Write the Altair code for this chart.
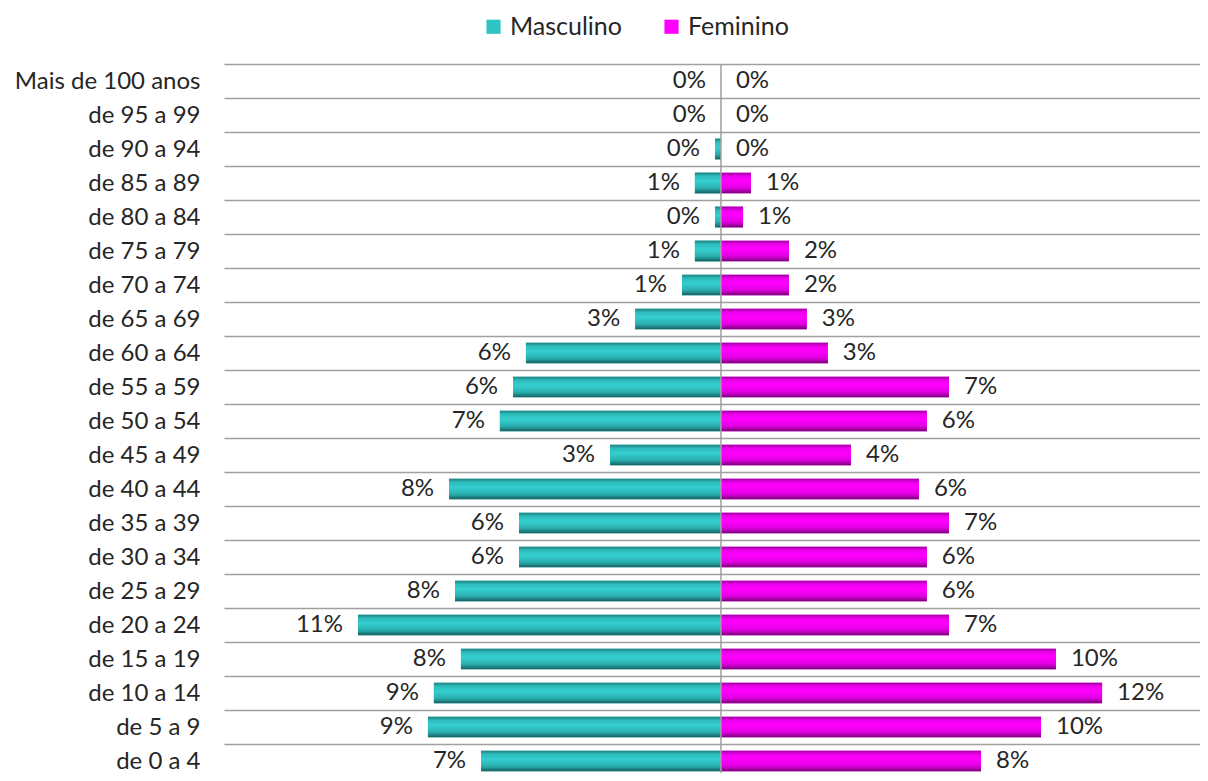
import altair as alt
import pandas as pd

ages = ["Mais de 100 anos", "de 95 a 99", "de 90 a 94", "de 85 a 89", "de 80 a 84",
        "de 75 a 79", "de 70 a 74", "de 65 a 69", "de 60 a 64", "de 55 a 59",
        "de 50 a 54", "de 45 a 49", "de 40 a 44", "de 35 a 39", "de 30 a 34",
        "de 25 a 29", "de 20 a 24", "de 15 a 19", "de 10 a 14", "de 5 a 9", "de 0 a 4"]
masculino = [0.0, 0.0, 0.18, 0.79, 0.18, 0.79, 1.18, 2.6, 5.91, 6.3, 6.7, 3.36, 8.24,
             6.12, 6.12, 8.06, 11.0, 7.88, 8.7, 8.88, 7.27]
feminino = [0.0, 0.0, 0.0, 0.91, 0.67, 2.06, 2.06, 2.6, 3.24, 6.91, 6.24, 3.94, 6.0,
            6.91, 6.24, 6.24, 6.91, 10.15, 11.55, 9.7, 7.88]
series = ["Masculino", "Feminino"]
colors = ["#2EC4C4", "#FF00FF"]

rows = []
for a, m, f in zip(ages, masculino, feminino):
    rows.append({"idade": a, "sexo": "Masculino", "valor": m, "pos": -m,
                 "rotulo": f"{round(m):.0f}%"})
    rows.append({"idade": a, "sexo": "Feminino", "valor": f, "pos": f,
                 "rotulo": f"{round(f):.0f}%"})
df = pd.DataFrame(rows)

FONT = "Lato"
FS = 24
TXT = "#262626"

teal = alt.Gradient(gradient="linear", x1=0, y1=0, x2=0, y2=1, stops=[
    alt.GradientStop(color="#1E7E7E", offset=0),
    alt.GradientStop(color="#2DBDBD", offset=0.18),
    alt.GradientStop(color="#34CFCF", offset=0.42),
    alt.GradientStop(color="#2AAEAE", offset=0.75),
    alt.GradientStop(color="#165E5E", offset=1)])
mag = alt.Gradient(gradient="linear", x1=0, y1=0, x2=0, y2=1, stops=[
    alt.GradientStop(color="#9A009A", offset=0),
    alt.GradientStop(color="#EE00EE", offset=0.18),
    alt.GradientStop(color="#FF00FF", offset=0.42),
    alt.GradientStop(color="#E000E0", offset=0.75),
    alt.GradientStop(color="#740074", offset=1)])

xscale = alt.Scale(domain=[-15.06, 14.76], nice=False, zero=False)
yscale = alt.Scale(domain=ages, paddingInner=0, paddingOuter=0)
BAR_H = {"band": 0.61}

base = alt.Chart(df)
y_enc = alt.Y("idade:N", scale=yscale, sort=ages, title=None,
              axis=alt.Axis(domain=False, ticks=False, grid=True, tickBand="extent",
                            gridColor="#A0A0A0", gridWidth=1.5, labelPadding=24,
                            labelFont=FONT, labelFontSize=FS, labelColor=TXT,
                            labelLimit=400))

bars_legend = base.mark_bar(height=BAR_H).encode(
    x=alt.X("pos:Q", scale=xscale, axis=None),
    y=y_enc,
    color=alt.Color("sexo:N", scale=alt.Scale(domain=series, range=colors), title=None,
                    legend=alt.Legend(orient="none", legendX=257, legendY=-50,
                                      direction="horizontal", symbolType="square",
                                      symbolSize=200, symbolStrokeWidth=0,
                                      labelFont=FONT, labelFontSize=25, labelColor=TXT,
                                      labelOffset=4, columnPadding=37)))

bars_m = base.transform_filter(alt.datum.sexo == "Masculino").mark_bar(
    color=teal, height=BAR_H).encode(
    x=alt.X("pos:Q", scale=xscale), y=alt.Y("idade:N", scale=yscale, sort=ages))
bars_f = base.transform_filter(alt.datum.sexo == "Feminino").mark_bar(
    color=mag, height=BAR_H).encode(
    x=alt.X("pos:Q", scale=xscale), y=alt.Y("idade:N", scale=yscale, sort=ages))

lab_m = base.transform_filter(alt.datum.sexo == "Masculino").mark_text(
    align="right", baseline="middle", dx=-15, font=FONT, fontSize=FS, color=TXT).encode(
    x=alt.X("pos:Q", scale=xscale), y=alt.Y("idade:N", scale=yscale, sort=ages),
    text="rotulo:N")
lab_f = base.transform_filter(alt.datum.sexo == "Feminino").mark_text(
    align="left", baseline="middle", dx=15, font=FONT, fontSize=FS, color=TXT).encode(
    x=alt.X("pos:Q", scale=xscale), y=alt.Y("idade:N", scale=yscale, sort=ages),
    text="rotulo:N")

center = alt.Chart(pd.DataFrame({"c": [0]})).mark_rule(color="#A0A0A0", strokeWidth=1.5).encode(
    x=alt.X("c:Q", scale=xscale))

chart = alt.layer(bars_legend, bars_m, bars_f, center, lab_m, lab_f).properties(
    width=984, height=714,
    autosize=alt.AutoSizeParams(type="none"),
    padding={"left": 216, "top": 56, "right": -8, "bottom": -5},
).configure_view(stroke=None)

chart.save("out.html", embed_options={"renderer": "svg", "actions": False})
